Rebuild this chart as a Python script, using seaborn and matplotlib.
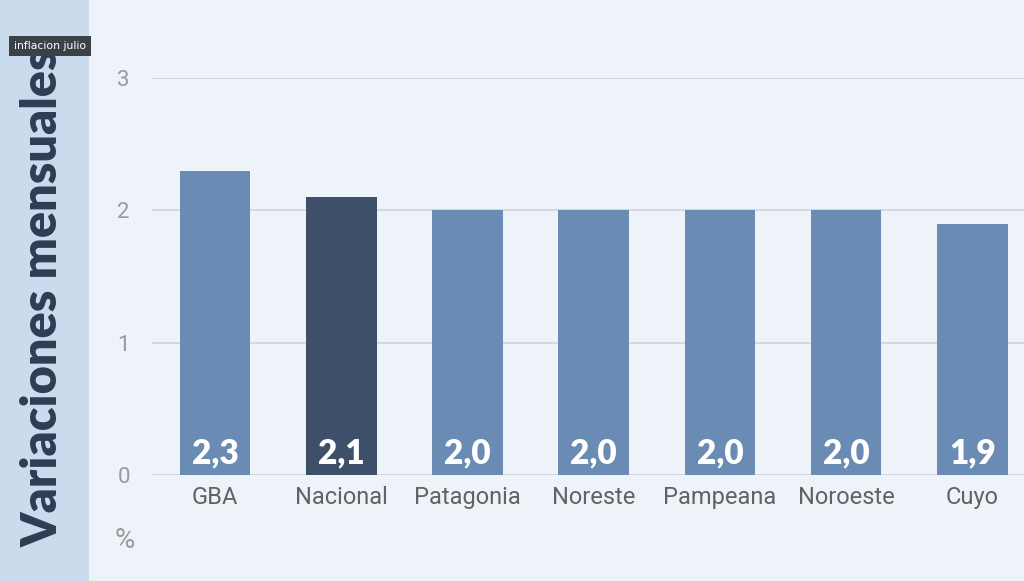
import numpy as np
import pandas as pd
import matplotlib
matplotlib.use('Agg')
import matplotlib.pyplot as plt
import seaborn as sns

# Data (inflacion julio, variaciones mensuales %)
regiones = ['GBA', 'Nacional', 'Patagonia', 'Noreste', 'Pampeana', 'Noroeste', 'Cuyo']
valores = [2.3, 2.1, 2.0, 2.0, 2.0, 2.0, 1.9]
etiquetas = ['2,3', '2,1', '2,0', '2,0', '2,0', '2,0', '1,9']
y_ticks = [0, 1, 2, 3]

BG = '#eef3f9'
STRIP = '#c9dbed'
BAR = '#6a8cb4'
BAR_NAC = '#3e5069'
NAVY = '#2e3d52'

sns.set_style('white')
plt.rcParams['font.family'] = ['Roboto', 'DejaVu Sans']

df = pd.DataFrame({'region': regiones, 'valor': valores})
colores = [BAR_NAC if r == 'Nacional' else BAR for r in regiones]

fig = plt.figure(figsize=(10.24, 5.81), dpi=100, facecolor=BG)

# left strip with the vertical title
fig.patches.append(plt.Rectangle((0, 0), 89 / 1024, 1, transform=fig.transFigure,
                                 facecolor=STRIP, edgecolor='none', zorder=0))
fig.text(43 / 1024, 1 - 298 / 581, 'Variaciones mensuales', rotation=90, ha='center', va='center',
         fontsize=35, fontweight='heavy', color=NAVY, family=['Lato', 'DejaVu Sans'])

ax = fig.add_axes([152 / 1024, 106 / 581, 1 - 152 / 1024, 397 / 581])
ax.set_facecolor(BG)

sns.barplot(data=df, x='region', y='valor', hue='region', palette=colores,
            width=0.56, legend=False, saturation=1, linewidth=0, ax=ax, zorder=2)

for i, lab in enumerate(etiquetas):
    ax.text(i, 0.04, lab, ha='center', va='bottom', color='white', fontsize=24,
            fontweight='heavy', family=['Lato', 'DejaVu Sans'], zorder=3)

ax.set_ylim(0, 3)
ax.set_xlim(-0.5, 6.41)
ax.set_yticks(y_ticks)
ax.set_yticklabels([str(t) for t in y_ticks])
ax.grid(axis='y', color='#cfd3d8', linewidth=1.2, zorder=0)
ax.set_axisbelow(True)
for s in ax.spines.values():
    s.set_visible(False)
ax.tick_params(axis='y', length=0, pad=16, labelsize=16, labelcolor='#9a9a9a')
ax.tick_params(axis='x', length=0, pad=8, labelsize=17, labelcolor='#626262')
ax.set_xlabel('')
ax.set_ylabel('')

fig.text(125 / 1024, 1 - 540 / 581, '%', ha='center', va='center', fontsize=20, color='#9a9a9a')

# small tag in the upper left corner (it sits over the title, as in the original)
fig.text(50 / 1024, 1 - 46 / 581, 'inflacion julio', ha='center', va='center', fontsize=7.8,
         color='white', family=['DejaVu Sans'],
         bbox=dict(boxstyle='square,pad=0.45', facecolor='#3c4047', edgecolor='none'))

fig.savefig('out.png', dpi=100, facecolor=BG)
